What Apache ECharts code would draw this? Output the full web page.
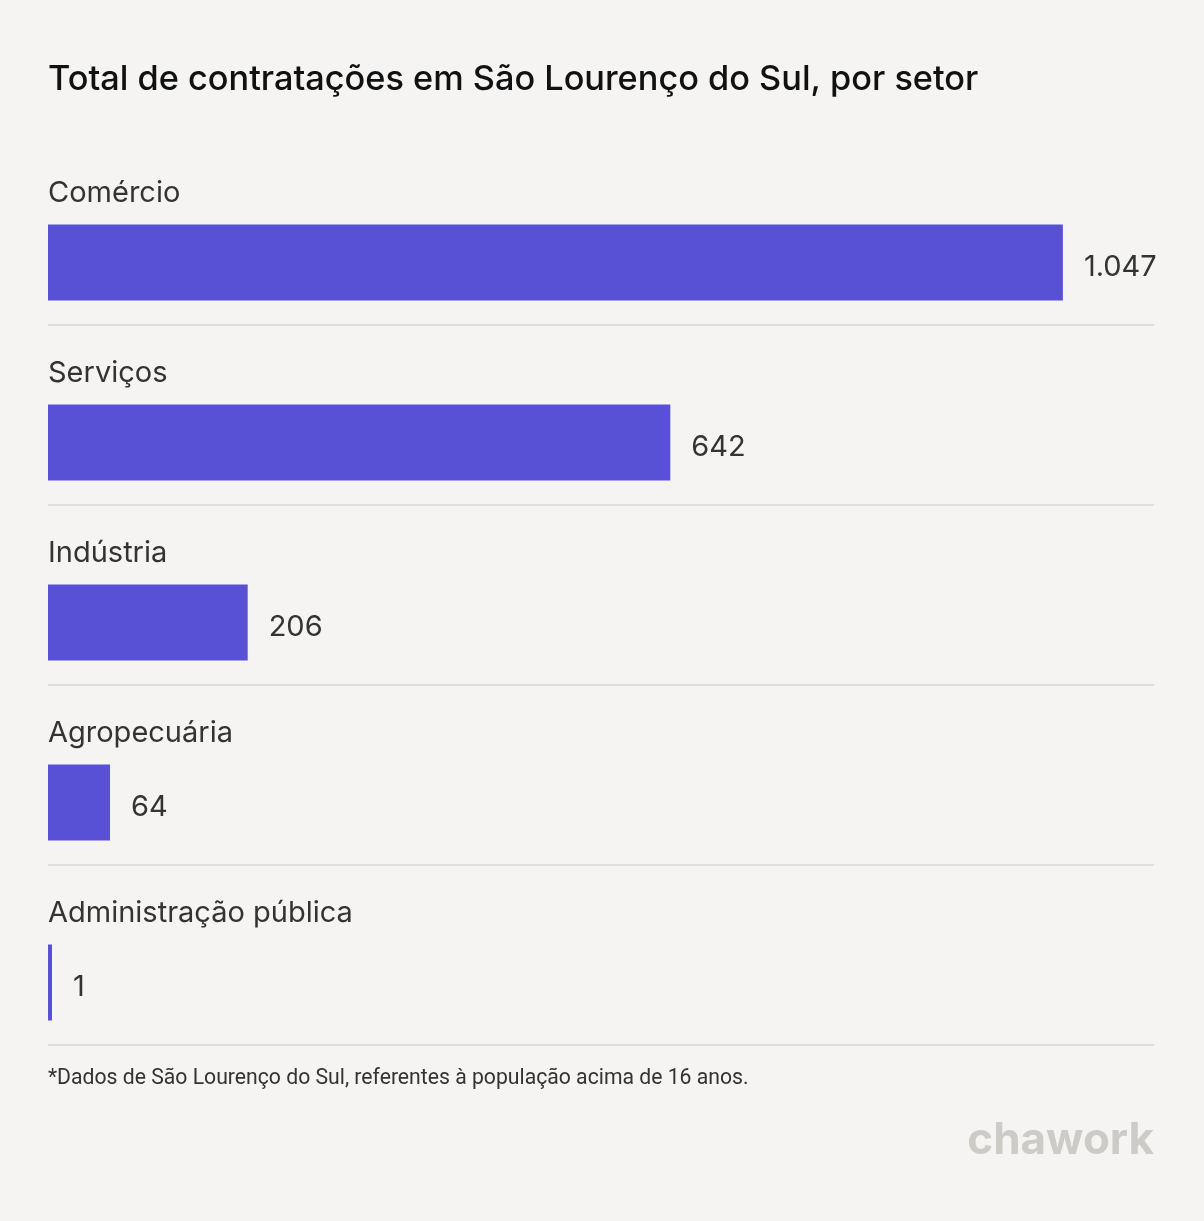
<!DOCTYPE html>
<html>
<head>
<meta charset="utf-8">
<script src="https://cdn.jsdelivr.net/npm/echarts@6/dist/echarts.min.js"></script>
<style>
html,body{margin:0;padding:0;background:#f5f4f2;}
#chart{width:1204px;height:1221px;}
</style>
</head>
<body>
<div id="chart"></div>
<script>
const categories = ['Comércio', 'Serviços', 'Indústria', 'Agropecuária', 'Administração pública'];
const values = [1047, 642, 206, 64, 1];
const titleText = 'Total de contratações em São Lourenço do Sul, por setor';
const footnote = '*Dados de São Lourenço do Sul, referentes à população acima de 16 anos.';

function fmt(v) { return String(v).replace(/\B(?=(\d{3})+(?!\d))/g, '.'); }

const chart = echarts.init(document.getElementById('chart'));
chart.setOption({
  backgroundColor: '#f5f4f2',
  animation: false,
  title: {
    text: titleText,
    left: 43, top: 58,
    textStyle: { fontFamily: 'Inter', fontSize: 34.3, fontWeight: 500, color: '#111111' }
  },
  grid: { left: 48, right: 50, top: 144.5, bottom: 176.5 },
  xAxis: { type: 'value', min: 0, max: 1141, show: false },
  yAxis: {
    type: 'category', data: categories, inverse: true,
    axisLine: { show: false }, axisTick: { show: false }, axisLabel: { show: false },
    splitLine: { show: true, showMinLine: false, lineStyle: { color: '#e0dedb', width: 2 } }
  },
  series: [{
    type: 'custom',
    data: values.map((v, i) => [v, i]),
    renderItem: function (params, api) {
      const idx = api.value(1);
      const center = api.coord([0, idx]);
      const end = api.coord([api.value(0), idx]);
      const band = api.size([0, 1])[1];
      const top = center[1] - band / 2;
      const x0 = center[0];
      const w = Math.max(end[0] - x0, 4);
      return {
        type: 'group',
        children: [
          { type: 'rect', shape: { x: x0, y: top + 80, width: w, height: 76 }, style: { fill: '#5851d5' } },
          { type: 'text', style: { text: categories[idx], x: x0, y: top + 49, fill: '#333333', font: '29px Inter', align: 'left', verticalAlign: 'middle' } },
          { type: 'text', style: { text: fmt(api.value(0)), x: x0 + w + 21, y: top + 123, fill: '#333333', font: '29px Inter', align: 'left', verticalAlign: 'middle' } }
        ]
      };
    }
  }],
  graphic: [
    { type: 'text', left: 48, top: 1068, style: { text: footnote, fill: '#333333', font: '21.2px Roboto' } },
    { type: 'text', right: 50, top: 1119, style: { text: 'chawork', fill: '#cdcbc5', font: 'bold 44px Inter' } }
  ]
});
</script>
</body>
</html>
